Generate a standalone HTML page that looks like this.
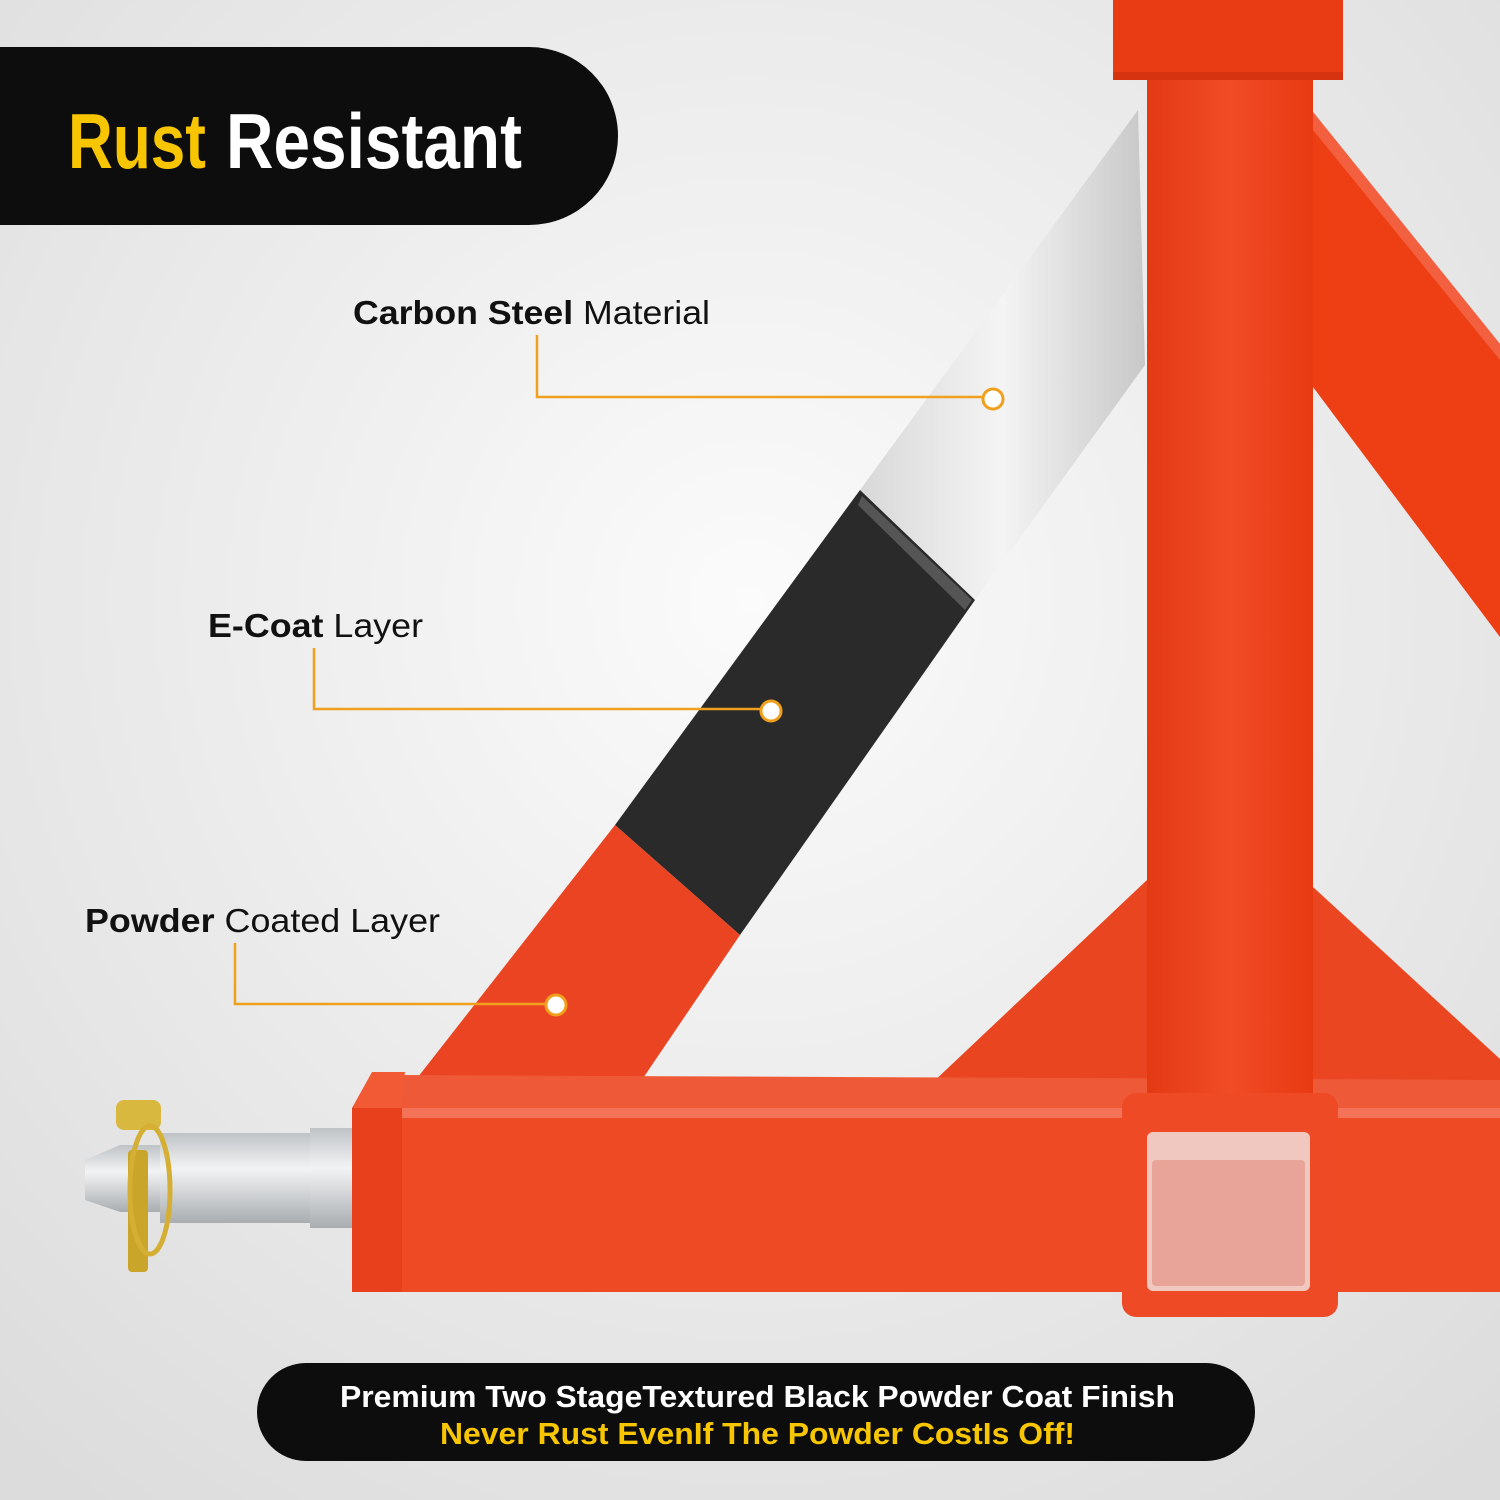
<!DOCTYPE html>
<html><head><meta charset="utf-8"><style>
html,body{margin:0;padding:0}
body{width:1500px;height:1500px;overflow:hidden;position:relative;font-family:"Liberation Sans",Arial,sans-serif}
svg{position:absolute;left:0;top:0}
</style></head><body>
<svg width="1500" height="1500" viewBox="0 0 1500 1500">
<defs>
<radialGradient id="bg" cx="50%" cy="40%" r="75%"><stop offset="0" stop-color="#fbfbfb"/><stop offset="1" stop-color="#dcdcdc"/></radialGradient>
<linearGradient id="silver" x1="0" y1="0" x2="1" y2="0"><stop offset="0" stop-color="#d8d8d8"/><stop offset="0.5" stop-color="#f4f4f4"/><stop offset="1" stop-color="#c8c8c8"/></linearGradient>
<linearGradient id="post" x1="0" y1="0" x2="1" y2="0"><stop offset="0" stop-color="#e33a14"/><stop offset="0.5" stop-color="#f04c26"/><stop offset="1" stop-color="#e83a12"/></linearGradient>
<linearGradient id="pin" x1="0" y1="0" x2="0" y2="1"><stop offset="0" stop-color="#bfc3c6"/><stop offset="0.4" stop-color="#f2f3f4"/><stop offset="1" stop-color="#a9adb0"/></linearGradient>
</defs>
<rect width="1500" height="1500" fill="url(#bg)"/>
<polygon points="1313,112 1500,344 1500,637 1313,387" fill="#ee3e14"/>
<polygon points="1313,112 1500,344 1500,360 1313,130" fill="#f26040"/>
<polygon points="1313,887 1500,1059 1500,1100 1313,1100" fill="#ea4622"/>
<polygon points="1147,880 930,1085 1147,1100" fill="#e94520"/>
<polygon points="1138,110 1145,365 975,600 860,490" fill="url(#silver)"/>
<polygon points="860,490 975,600 740,935 615,825" fill="#2a2a2a"/>
<polygon points="862,496 972,600 965,610 858,505" fill="#555"/>
<polygon points="615,825 740,935 635,1090 400,1100" fill="#ea4422"/>
<polygon points="400,1075 1500,1080 1500,1110 400,1110" fill="#ee5a38"/>
<rect x="352" y="1108" width="1148" height="184" fill="#ee4a24"/>
<rect x="352" y="1108" width="1148" height="10" fill="#f47258"/>
<polygon points="352,1108 372,1072 405,1072 400,1110" fill="#f25a36"/>
<rect x="352" y="1108" width="50" height="184" fill="#e8401c"/>
<rect x="1147" y="0" width="166" height="1100" fill="url(#post)"/>
<rect x="1113" y="0" width="230" height="80" fill="#ea3c14"/>
<rect x="1113" y="72" width="230" height="8" fill="#d63410"/>
<rect x="1122" y="1093" width="216" height="224" rx="14" fill="#ee4a26"/>
<rect x="1147" y="1132" width="163" height="159" rx="6" fill="#f0c8c0"/>
<rect x="1152" y="1160" width="153" height="126" rx="4" fill="#e8a498"/>
<rect x="160" y="1133" width="192" height="90" fill="url(#pin)"/>
<rect x="310" y="1128" width="42" height="100" fill="url(#pin)"/>
<polygon points="85,1160 120,1145 160,1145 160,1212 120,1212 85,1200" fill="url(#pin)"/>
<rect x="116" y="1100" width="45" height="30" rx="8" fill="#d9b840"/>
<rect x="128" y="1150" width="20" height="122" rx="4" fill="#c9a52a"/>
<ellipse cx="150" cy="1190" rx="20" ry="64" fill="none" stroke="#d4af34" stroke-width="5"/>
<path d="M0,47 H529 A89,89 0 0 1 529,225 H0 Z" fill="#0d0d0d"/>
<text x="68" y="168" font-family="'Liberation Sans Narrow','Liberation Sans',sans-serif" font-weight="bold" font-size="78" fill="#f7c600" textLength="138" lengthAdjust="spacingAndGlyphs">Rust</text>
<text x="226" y="168" font-family="'Liberation Sans Narrow','Liberation Sans',sans-serif" font-weight="bold" font-size="78" fill="#fff" textLength="296" lengthAdjust="spacingAndGlyphs">Resistant</text>
<g font-size="33" fill="#111">
<text x="353" y="324" textLength="357" lengthAdjust="spacingAndGlyphs"><tspan font-weight="bold">Carbon Steel</tspan> Material</text>
<text x="208" y="637" textLength="215" lengthAdjust="spacingAndGlyphs"><tspan font-weight="bold">E-Coat</tspan> Layer</text>
<text x="85" y="932" textLength="355" lengthAdjust="spacingAndGlyphs"><tspan font-weight="bold">Powder</tspan> Coated Layer</text>
</g>
<g fill="none" stroke="#f0a01c" stroke-width="2.5">
<polyline points="537,335 537,397 982,397"/>
<polyline points="314,648 314,709 760,709"/>
<polyline points="235,943 235,1004 546,1004"/>
</g>
<g fill="#fff" stroke="#f0a01c" stroke-width="3">
<circle cx="993" cy="399" r="10"/>
<circle cx="771" cy="711" r="10"/>
<circle cx="556" cy="1005" r="10"/>
</g>
<rect x="257" y="1363" width="998" height="98" rx="49" fill="#0d0d0d"/>
<text x="340" y="1407" font-weight="bold" font-size="31" fill="#fff" textLength="835" lengthAdjust="spacingAndGlyphs">Premium Two StageTextured Black Powder Coat Finish</text>
<text x="440" y="1444" font-weight="bold" font-size="31" fill="#f7c600" textLength="635" lengthAdjust="spacingAndGlyphs">Never Rust EvenIf The Powder CostIs Off!</text>
</svg>
</body></html>
